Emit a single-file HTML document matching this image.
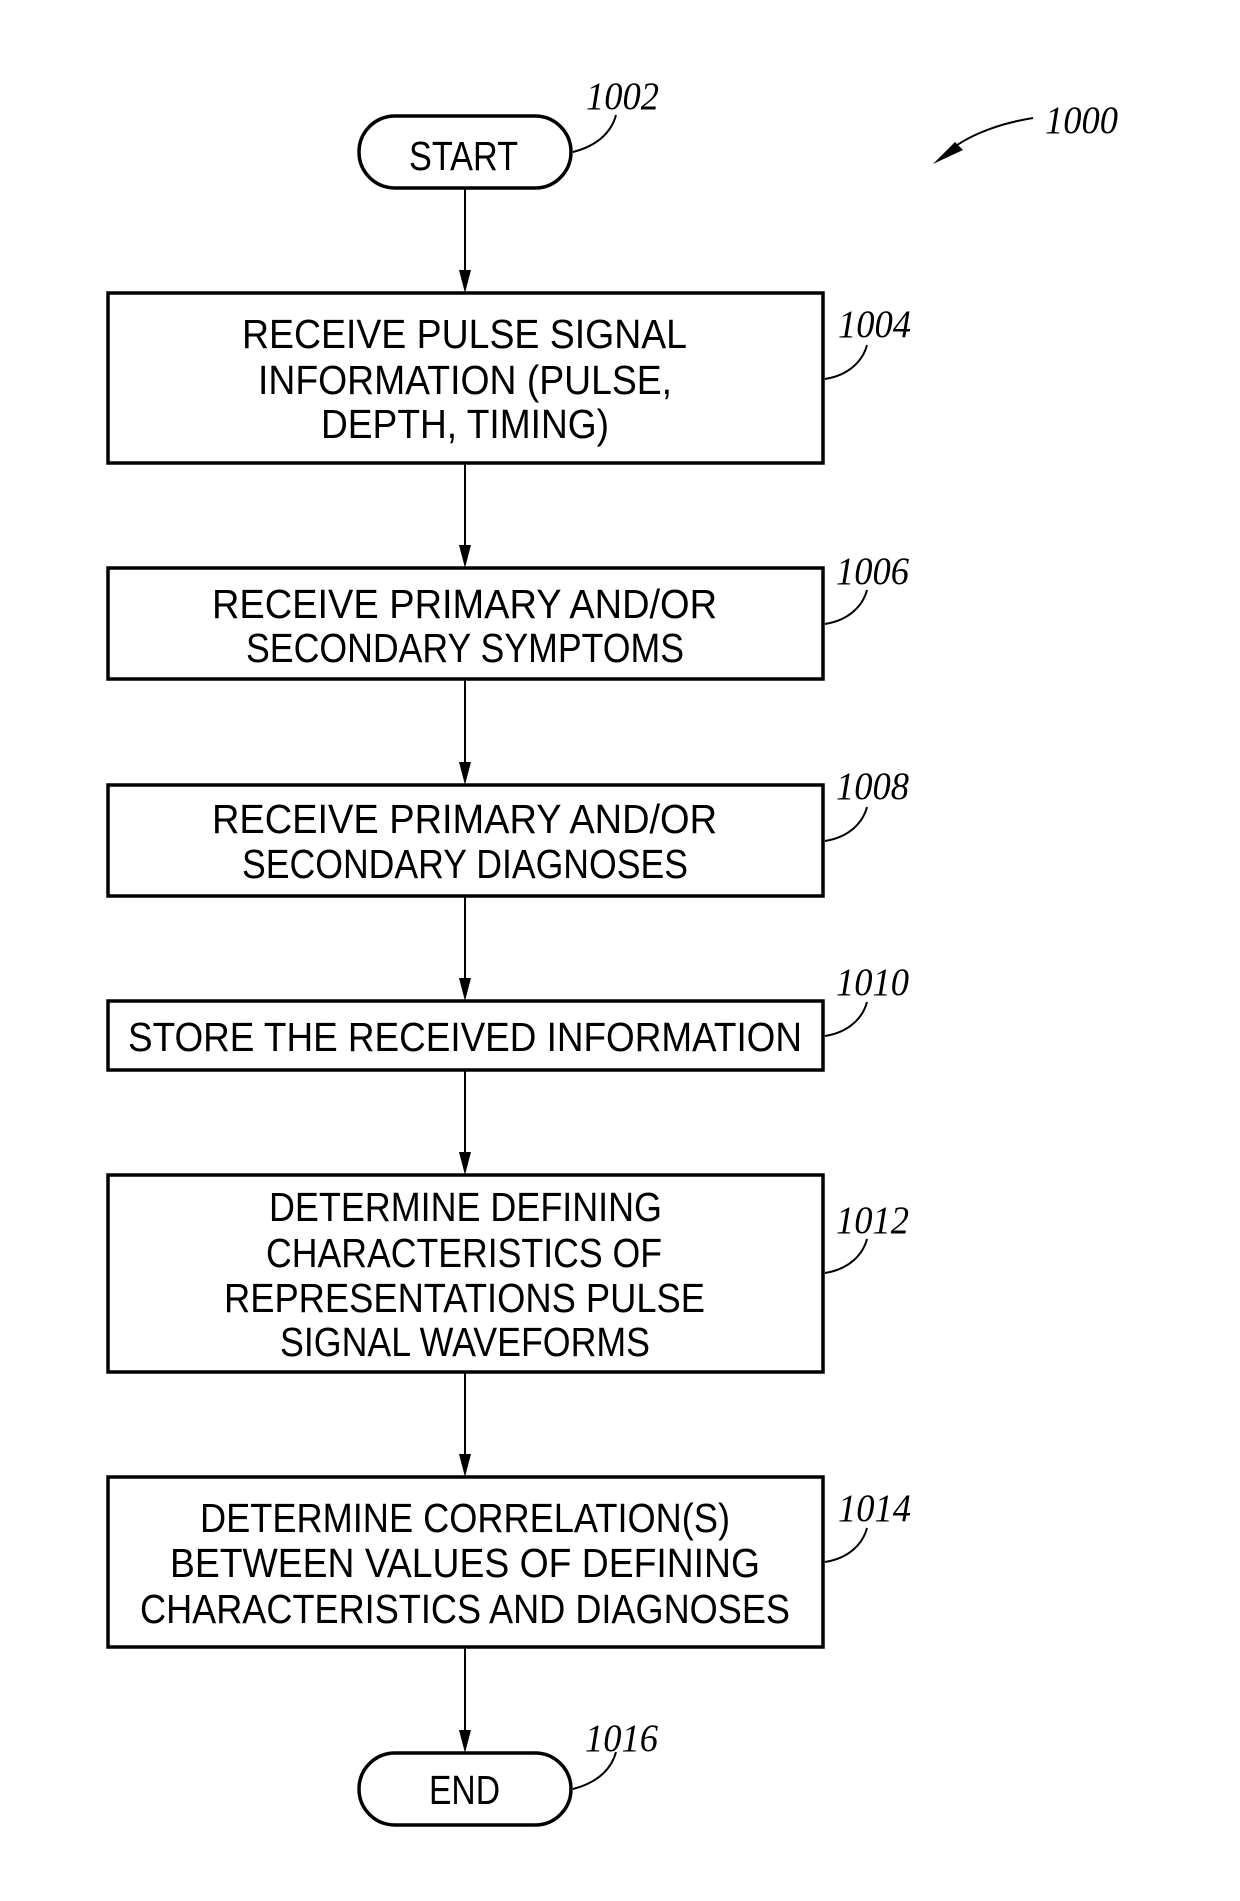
<!DOCTYPE html>
<html><head><style>body{margin:0;background:#fff}svg{display:block}</style></head><body>
<svg width="1240" height="1901" viewBox="0 0 1240 1901" xmlns="http://www.w3.org/2000/svg">
<g fill="none" stroke="#000">
<rect x="359" y="116" width="212" height="72" rx="36" stroke-width="3.5"/>
<rect x="359" y="1753" width="212" height="72" rx="36" stroke-width="3.5"/>
<rect x="108" y="293" width="715" height="170" stroke-width="3.5"/>
<rect x="108" y="568" width="715" height="111" stroke-width="3.5"/>
<rect x="108" y="785" width="715" height="111" stroke-width="3.5"/>
<rect x="108" y="1001" width="715" height="69" stroke-width="3.5"/>
<rect x="108" y="1175" width="715" height="197" stroke-width="3.5"/>
<rect x="108" y="1477" width="715" height="170" stroke-width="3.5"/>
<g stroke-width="2">
<line x1="465" y1="189" x2="465" y2="270"/>
<line x1="465" y1="463" x2="465" y2="545"/>
<line x1="465" y1="679" x2="465" y2="762"/>
<line x1="465" y1="896" x2="465" y2="978"/>
<line x1="465" y1="1070" x2="465" y2="1152"/>
<line x1="465" y1="1372" x2="465" y2="1454"/>
<line x1="465" y1="1647" x2="465" y2="1730"/>
<path d="M573 152 C600 145 612 130 616 115"/>
<path d="M1033 118 C990 125 960 140 945 155"/>
<path d="M825 379 C850 375 863 360 867 345"/>
<path d="M825 624 C850 620 863 605 867 590"/>
<path d="M825 841 C850 837 863 822 867 807"/>
<path d="M825 1036 C850 1032 863 1017 867 1002"/>
<path d="M825 1273 C850 1269 863 1254 867 1239"/>
<path d="M825 1562 C850 1558 863 1543 867 1528"/>
<path d="M573 1789 C600 1782 612 1767 616 1752"/>
</g>
</g>
<g fill="#000">
<polygon points="459,270 471,270 465,293"/>
<polygon points="459,545 471,545 465,568"/>
<polygon points="459,762 471,762 465,785"/>
<polygon points="459,978 471,978 465,1001"/>
<polygon points="459,1152 471,1152 465,1175"/>
<polygon points="459,1454 471,1454 465,1477"/>
<polygon points="459,1730 471,1730 465,1753"/>
<polygon points="933,164 955,142 963,150"/>
</g>
<g font-family="Liberation Sans, sans-serif" font-size="41" fill="#000">
<text x="409" y="170" textLength="109" lengthAdjust="spacingAndGlyphs">START</text>
<text x="429" y="1804" textLength="71" lengthAdjust="spacingAndGlyphs">END</text>
<text x="242" y="348" textLength="445" lengthAdjust="spacingAndGlyphs">RECEIVE  PULSE  SIGNAL</text>
<text x="258" y="394" textLength="414" lengthAdjust="spacingAndGlyphs">INFORMATION  (PULSE,</text>
<text x="321" y="438" textLength="288" lengthAdjust="spacingAndGlyphs">DEPTH,  TIMING)</text>
<text x="212" y="618" textLength="505" lengthAdjust="spacingAndGlyphs">RECEIVE  PRIMARY  AND/OR</text>
<text x="246" y="662" textLength="438" lengthAdjust="spacingAndGlyphs">SECONDARY  SYMPTOMS</text>
<text x="212" y="833" textLength="505" lengthAdjust="spacingAndGlyphs">RECEIVE  PRIMARY  AND/OR</text>
<text x="242" y="878" textLength="446" lengthAdjust="spacingAndGlyphs">SECONDARY  DIAGNOSES</text>
<text x="128" y="1051" textLength="674" lengthAdjust="spacingAndGlyphs">STORE  THE  RECEIVED  INFORMATION</text>
<text x="269" y="1221" textLength="393" lengthAdjust="spacingAndGlyphs">DETERMINE  DEFINING</text>
<text x="266" y="1267" textLength="396" lengthAdjust="spacingAndGlyphs">CHARACTERISTICS  OF</text>
<text x="224" y="1312" textLength="481" lengthAdjust="spacingAndGlyphs">REPRESENTATIONS  PULSE</text>
<text x="280" y="1356" textLength="370" lengthAdjust="spacingAndGlyphs">SIGNAL  WAVEFORMS</text>
<text x="200" y="1532" textLength="530" lengthAdjust="spacingAndGlyphs">DETERMINE  CORRELATION(S)</text>
<text x="170" y="1577" textLength="590" lengthAdjust="spacingAndGlyphs">BETWEEN  VALUES  OF  DEFINING</text>
<text x="140" y="1623" textLength="650" lengthAdjust="spacingAndGlyphs">CHARACTERISTICS  AND  DIAGNOSES</text>
</g>
<g font-family="Liberation Serif, serif" font-style="italic" font-size="39" fill="#000">
<text x="586" y="109" textLength="73" lengthAdjust="spacingAndGlyphs">1002</text>
<text x="1045" y="133" textLength="73" lengthAdjust="spacingAndGlyphs">1000</text>
<text x="838" y="337" textLength="73" lengthAdjust="spacingAndGlyphs">1004</text>
<text x="836" y="584" textLength="73" lengthAdjust="spacingAndGlyphs">1006</text>
<text x="836" y="799" textLength="73" lengthAdjust="spacingAndGlyphs">1008</text>
<text x="836" y="995" textLength="73" lengthAdjust="spacingAndGlyphs">1010</text>
<text x="836" y="1233" textLength="73" lengthAdjust="spacingAndGlyphs">1012</text>
<text x="838" y="1521" textLength="73" lengthAdjust="spacingAndGlyphs">1014</text>
<text x="585" y="1751" textLength="73" lengthAdjust="spacingAndGlyphs">1016</text>
</g>
</svg>
</body></html>
